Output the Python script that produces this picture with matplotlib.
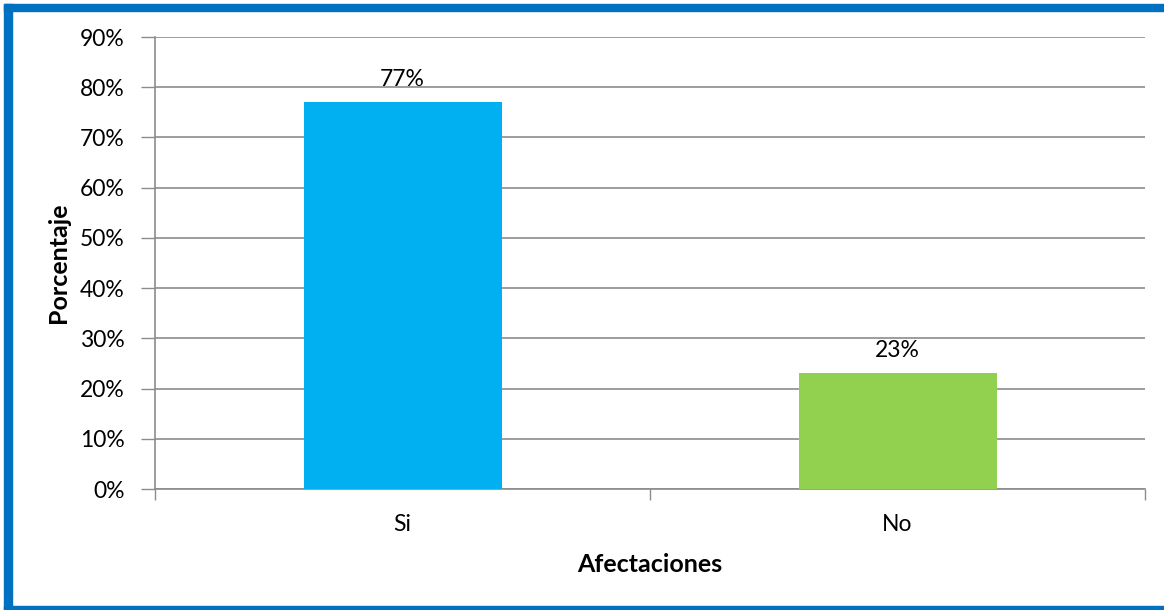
import numpy as np
import matplotlib
matplotlib.use("Agg")
import matplotlib.pyplot as plt
from matplotlib.patches import Rectangle
from matplotlib.ticker import FixedLocator, PercentFormatter

categories = ["Si", "No"]
values = [0.77, 0.23]
bar_colors = ["#00B0F0", "#92D050"]
yticks = [0, 0.1, 0.2, 0.3, 0.4, 0.5, 0.6, 0.7, 0.8, 0.9]

W, H = 1164, 610
GRIDC = "#8C8C8C"
BORDER = "#0070C0"
plt.rcParams["font.family"] = ["Lato", "DejaVu Sans"]

fig = plt.figure(figsize=(W / 100, H / 100), dpi=100)
ax = fig.add_axes([155 / W, 1 - 489 / H, 990 / W, 452 / H])

x = np.arange(len(categories))
ax.bar(x, values, width=0.4, color=bar_colors, zorder=3)
for xi, v in zip(x, values):
    ax.text(xi, v + 0.024, f"{v:.0%}", ha="center", va="bottom", fontsize=16.5)

ax.set_xlim(-0.5, len(categories) - 0.5)
ax.set_ylim(0, 0.9)
ax.set_yticks(yticks)
ax.yaxis.set_major_formatter(PercentFormatter(1.0, decimals=0))
ax.set_xticks(x)
ax.set_xticklabels(categories)
ax.xaxis.set_minor_locator(FixedLocator(np.arange(len(categories) + 1) - 0.5))
ax.tick_params(axis="x", which="major", length=0, pad=18, labelsize=16.5)
ax.tick_params(axis="x", which="minor", length=8, color=GRIDC, width=1)
ax.tick_params(axis="y", length=10, color=GRIDC, width=1, pad=12, labelsize=16.5)

ax.grid(axis="y", color=GRIDC, linewidth=1.2, zorder=0)
ax.set_axisbelow(True)
for s in ("top", "right"):
    ax.spines[s].set_visible(False)
for s in ("left", "bottom"):
    ax.spines[s].set_color(GRIDC)
    ax.spines[s].set_linewidth(1.2)

ax.set_xlabel("Afectaciones", fontsize=18, fontweight="bold", labelpad=13)
ax.set_ylabel("Porcentaje", fontsize=18, fontweight="bold", labelpad=7)

# blue frame around the chart
for (x0, y0, w, h) in [(4, 4, W - 4, 7), (4, 4, 8, H - 4), (4, H - 4, W - 4, 4)]:
    fig.patches.append(Rectangle((x0 / W, 1 - (y0 + h) / H), w / W, h / H,
                                 transform=fig.transFigure, color=BORDER, zorder=10))

fig.savefig("out.png", dpi=100)
